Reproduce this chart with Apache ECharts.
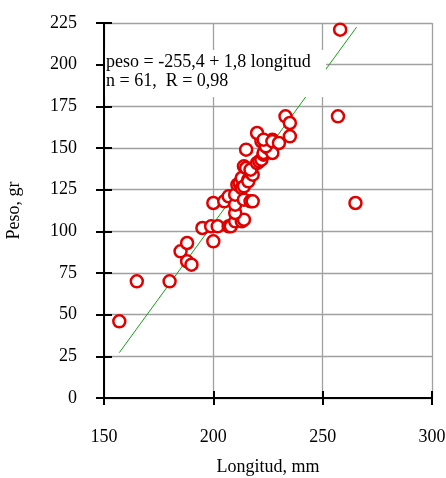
<!DOCTYPE html>
<html>
<head>
<meta charset="utf-8">
<script src="https://cdn.jsdelivr.net/npm/echarts@6/dist/echarts.min.js"></script>
<style>
  html, body {margin: 0; padding: 0; background: #fff;}
  #main {width: 446px; height: 478px;}
</style>
</head>
<body>
<div id="main"></div>
<script>
// longitud (mm) and peso (gr)
const longitud = [157, 165, 180, 185, 188, 188, 190,
    195, 199, 200, 202, 200,
    207, 208, 210, 213, 214,
    205, 207, 210, 210, 210, 211, 212, 213, 213, 214, 214, 216, 217, 218, 216, 218,
    214, 215, 217, 220, 221, 222, 223, 223, 225, 227, 227, 222, 224, 215, 220, 223, 227, 230,
    233, 235, 235, 258, 257, 265];
const peso = [46, 70, 70, 88, 93, 82, 80,
    102, 103, 94, 103, 117,
    103, 103, 106, 106, 107,
    118, 121, 111, 116, 122, 128, 129, 126, 132, 119, 127, 131, 118, 118, 130, 134,
    139, 138, 137, 141, 142, 143, 146, 147, 150, 147, 155, 154, 151, 149, 159, 155, 154, 153,
    169, 165, 157, 221, 169, 117];

// regression: peso = -255,4 + 1,8 longitud
const fitX = [157, 265.5];
const fitLine = fitX.map(x => [x, -255.4 + 1.8 * x]);

const xTicks = [150, 200, 250, 300];
const yMax = 225;

const font = '"Liberation Serif", "Times New Roman", serif';
const gray = '#a0a0a0';

const myChart = echarts.init(document.getElementById('main'));
myChart.setOption({
    animation: false,
    grid: {left: 104, right: 14, top: 23, bottom: 80, outerBoundsMode: 'none'},
    xAxis: [{
        type: 'value',
        min: xTicks[0],
        max: xTicks[xTicks.length - 1],
        interval: 50,
        name: 'Longitud, mm',
        nameLocation: 'middle',
        nameGap: 60,
        nameTextStyle: {fontFamily: font, fontSize: 18, color: '#000'},
        axisLine: {lineStyle: {color: '#000', width: 2}},
        axisTick: {show: true, length: 7, lineStyle: {color: '#000', width: 2}},
        axisLabel: {fontFamily: font, fontSize: 18, color: '#000', margin: 30},
        splitLine: {show: true, lineStyle: {color: gray, width: 1.3}}
    }, {
        type: 'value',
        position: 'bottom',
        min: xTicks[0],
        max: xTicks[xTicks.length - 1],
        interval: 50,
        axisLine: {show: false},
        axisTick: {show: true, inside: true, length: 7, lineStyle: {color: '#000', width: 2}},
        axisLabel: {show: false},
        splitLine: {show: false}
    }],
    yAxis: [{
        type: 'value',
        min: 0,
        max: yMax,
        interval: 25,
        name: 'Peso, gr',
        nameLocation: 'middle',
        nameGap: 81,
        nameTextStyle: {fontFamily: font, fontSize: 18, color: '#000'},
        axisLine: {show: true, lineStyle: {color: '#000', width: 2}},
        axisTick: {show: true, length: 8, lineStyle: {color: '#000', width: 2}},
        axisLabel: {fontFamily: font, fontSize: 18, color: '#000', margin: 27},
        splitLine: {show: true, lineStyle: {color: gray, width: 1.3}}
    }, {
        type: 'value',
        position: 'left',
        min: 0,
        max: yMax,
        interval: 25,
        axisLine: {show: false},
        axisTick: {show: true, inside: true, length: 8, lineStyle: {color: '#000', width: 2}},
        axisLabel: {show: false},
        splitLine: {show: false}
    }],
    graphic: [{
        type: 'rect',
        z: 100,
        shape: {x: 105, y: 50, width: 221, height: 47},
        style: {fill: '#fff'}
    }, {
        type: 'text',
        z: 101,
        x: 106,
        y: 53,
        style: {
            text: 'peso = -255,4 + 1,8 longitud\nn = 61,  R = 0,98',
            font: '18px ' + font,
            fill: '#000',
            lineHeight: 19
        }
    }],
    series: [{
        type: 'line',
        data: fitLine,
        symbol: 'none',
        z: 1,
        lineStyle: {color: '#179f17', width: 1}
    }, {
        type: 'scatter',
        data: longitud.map((x, i) => [x, peso[i]]),
        symbol: 'circle',
        symbolSize: 12,
        z: 3,
        itemStyle: {color: '#fff', borderColor: '#e00000', borderWidth: 2.5, opacity: 1}
    }]
});
</script>
</body>
</html>
